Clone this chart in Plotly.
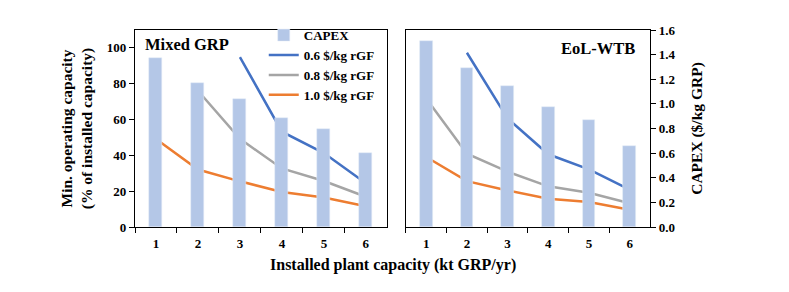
import plotly.graph_objects as go

capacity = ["1", "2", "3", "4", "5", "6"]

# Mixed GRP panel
mixed_capex = [1.375, 1.17, 1.04, 0.886, 0.793, 0.598]
mixed_06 = [None, None, 94.9, 53.2, 41.3, 24.4]
mixed_08 = [None, 76.1, 49.2, 32.7, 25.7, 16.9]
mixed_10 = [49.2, 32.1, 25.5, 19.6, 16.5, 11.6]

# EoL-WTB panel
wtb_capex = [1.508, 1.288, 1.145, 0.976, 0.873, 0.661]
wtb_06 = [None, 97.3, 60.6, 40.6, 32.2, 20.9]
wtb_08 = [71.8, 40.9, 30.9, 22.7, 19.1, 13.3]
wtb_10 = [39.1, 25.6, 20.4, 15.8, 14.0, 9.6]

series_names = ["0.6 $/kg rGF", "0.8 $/kg rGF", "1.0 $/kg rGF"]
colors = ["#4472C4", "#A5A5A5", "#ED7D31"]
bar_color = "#B4C7E7"

FONT = "Liberation Serif"

fig = go.Figure()

# left panel
fig.add_trace(go.Bar(x=capacity, y=mixed_capex, name="<b>CAPEX</b>", marker_color=bar_color,
                     width=0.31, xaxis="x", yaxis="y2", showlegend=True))
for vals, nm, c in zip([mixed_06, mixed_08, mixed_10], series_names, colors):
    fig.add_trace(go.Scatter(x=capacity, y=vals, name=f"<b>{nm}</b>", mode="lines",
                             line=dict(color=c, width=2.5), xaxis="x", yaxis="y"))

# right panel
fig.add_trace(go.Bar(x=capacity, y=wtb_capex, name="CAPEX", marker_color=bar_color,
                     width=0.31, xaxis="x2", yaxis="y4", showlegend=False))
for vals, nm, c in zip([wtb_06, wtb_08, wtb_10], series_names, colors):
    fig.add_trace(go.Scatter(x=capacity, y=vals, name=nm, mode="lines",
                             line=dict(color=c, width=2.5), xaxis="x2", yaxis="y3",
                             showlegend=False))

tickfont = dict(family=FONT, size=13, color="black", weight="bold")
axis_common = dict(showline=True, linecolor="black", linewidth=1.2, mirror=True,
                   showgrid=False, zeroline=False, tickfont=tickfont)

x_common = dict(type="category", ticks="outside", tickson="boundaries",
                ticklen=5, tickcolor="black", range=[-0.5, 5.5],
                ticklabelstandoff=4, **axis_common)

fig.update_layout(
    width=781, height=284,
    margin=dict(l=127, r=139, t=19, b=65),
    paper_bgcolor="white", plot_bgcolor="white",
    bargap=0,
    font=dict(family=FONT, color="black"),
    xaxis=dict(domain=[0, 0.489], anchor="y", **x_common),
    xaxis2=dict(domain=[0.526, 1], anchor="y3", **x_common),
    yaxis=dict(range=[0, 110], tickvals=[0, 20, 40, 60, 80, 100], ticks="outside",
               ticklen=5, tickcolor="black", anchor="x",
               title=dict(text="<b>Min. operating capacity<br>(% of installed capacity)</b>",
                          font=dict(family=FONT, size=15.5), standoff=10),
               **axis_common),
    yaxis2=dict(range=[0, 1.6], overlaying="y", anchor="x", visible=False),
    yaxis3=dict(range=[0, 110], anchor="x2", showticklabels=False, ticks="",
                **{k: v for k, v in axis_common.items() if k != "tickfont"}),
    yaxis4=dict(range=[0, 1.6], overlaying="y3", anchor="x2", side="right",
                dtick=0.2, tickformat=".1f", ticks="outside", ticklen=5, tickcolor="black",
                showline=True, linecolor="black", linewidth=1.2, showgrid=False,
                zeroline=False, tickfont=tickfont,
                title=dict(text="<b>CAPEX ($/kg GRP)</b>", font=dict(family=FONT, size=15.5),
                           standoff=16)),
    legend=dict(x=0.25, y=1.05, xanchor="left", yanchor="top", bgcolor="rgba(0,0,0,0)",
                font=dict(family=FONT, size=13, color="black"), tracegroupgap=0,
                itemwidth=30),
    annotations=[
        dict(text="<b>Mixed GRP</b>", x=0.015, y=0.985, xref="paper", yref="paper",
             xanchor="left", yanchor="top", showarrow=False,
             font=dict(family=FONT, size=16.5, color="black")),
        dict(text="<b>EoL-WTB</b>", x=0.975, y=0.965, xref="paper", yref="paper",
             xanchor="right", yanchor="top", showarrow=False,
             font=dict(family=FONT, size=16.5, color="black")),
        dict(text="<b>Installed plant capacity (kt GRP/yr)</b>", x=0.5, y=-0.195,
             xref="paper", yref="paper", xanchor="center", yanchor="middle",
             showarrow=False, font=dict(family=FONT, size=16, color="black")),
    ],
)

fig.write_html("out.html")
